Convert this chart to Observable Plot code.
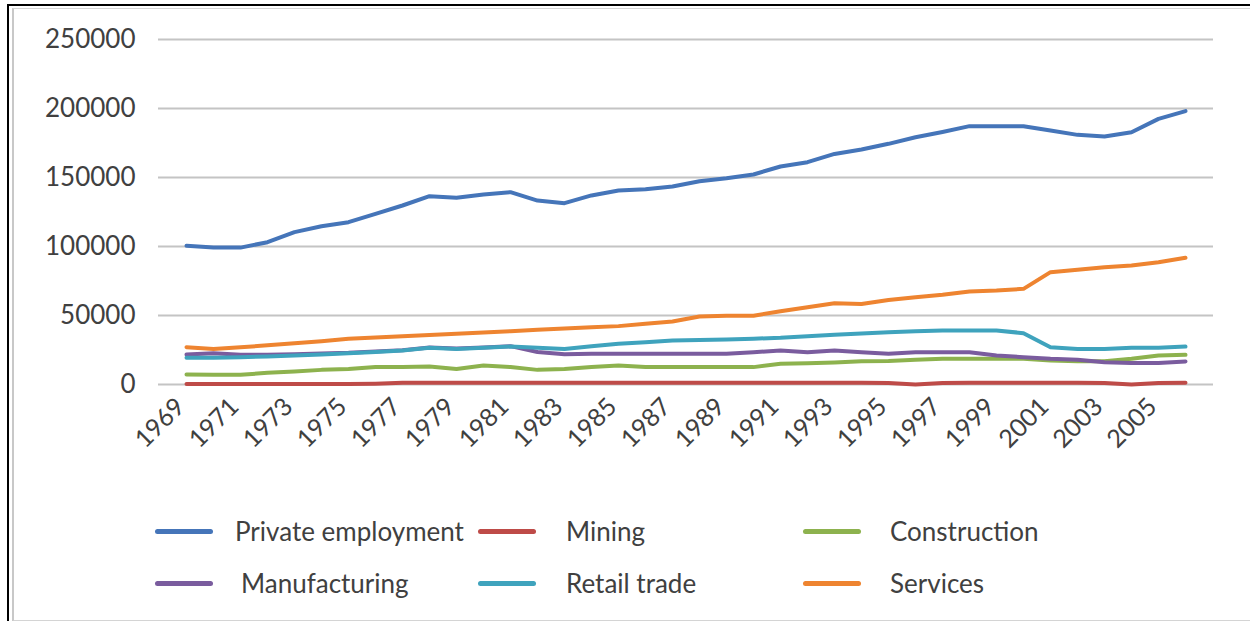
<!DOCTYPE html>
<html>
<head>
<meta charset="utf-8">
<script src="https://cdn.jsdelivr.net/npm/d3@7"></script>
<script src="https://cdn.jsdelivr.net/npm/@observablehq/plot@0.6"></script>
<style>
  html, body { margin: 0; padding: 0; background: #fff; }
  #wrap { position: relative; width: 1250px; height: 621px; overflow: hidden; background: #fff; font-family: Lato, "Open Sans", sans-serif; }
  #outer { position: absolute; left: 7px; top: 4px; right: -10px; bottom: -10px; border-top: 2.5px solid #000; border-left: 2.5px solid #000; }
  #inner { position: absolute; left: 12px; top: 8px; right: -10px; height: 611px; border-top: 1.5px solid #d4d4d4; border-left: 2.5px solid #c8c8c8; border-bottom: 2px solid #d4d4d4; }
  #chart { position: absolute; left: 0; top: 0; }
  .lg { position: absolute; display: flex; align-items: center; font-size: 26px; color: #404040; white-space: pre; }
  .sw { width: 58px; height: 5px; border-radius: 2.5px; }
</style>
</head>
<body>
<div id="wrap">
  <div id="outer"></div>
  <div id="inner"></div>
  <div id="chart"></div>
  <div id="legend"></div>
</div>
<script>
// ---- data ----
const years = [1969,1970,1971,1972,1973,1974,1975,1976,1977,1978,1979,1980,1981,1982,1983,1984,1985,1986,1987,1988,1989,1990,1991,1992,1993,1994,1995,1996,1997,1998,1999,2000,2001,2002,2003,2004,2005,2006];
const tickYears = [1969,1971,1973,1975,1977,1979,1981,1983,1985,1987,1989,1991,1993,1995,1997,1999,2001,2003,2005];
const yTicks = [0,50000,100000,150000,200000,250000];

const seriesNames = ["Private employment","Mining","Construction","Manufacturing","Retail trade","Services"];
const seriesColors = ["#4575B9","#BE4B48","#8DB24E","#7A5C9E","#3FA3BD","#EE8430"];

const privateEmployment = [100500,99300,99200,103100,110400,114700,117600,123700,129700,136500,135300,137700,139400,133300,131400,137000,140600,141500,143500,147300,149500,152200,158000,161100,167100,170300,174400,179200,183000,187200,187200,187200,184000,180900,179700,182800,192500,198100];
const mining = [300,300,300,300,300,300,300,600,1300,1300,1300,1300,1300,1300,1300,1300,1300,1300,1300,1300,1300,1300,1300,1300,1300,1300,1000,0,1000,1300,1300,1300,1300,1300,1000,0,1000,1300];
const construction = [7200,7000,7000,8500,9400,10600,11300,12600,12600,13000,11300,13800,12600,10600,11300,12600,13800,12600,12600,12600,12600,12600,15000,15400,16000,16900,17000,17900,18600,18600,18600,18600,17400,16900,16900,18600,21000,21500];
const manufacturing = [21700,22700,21500,21500,22000,22500,23000,24000,24800,26800,26000,26800,27800,23500,22000,22200,22200,22200,22200,22200,22200,23400,24600,23400,24600,23400,22200,23400,23400,23400,21000,19800,18600,17900,16200,15500,15500,16700];
const retailTrade = [19300,19300,19800,20300,21000,21800,22700,23500,24600,26600,25800,26600,27500,26600,25800,27800,29500,30700,31900,32300,32600,33200,33800,34900,36000,37000,37900,38500,39100,39100,39100,37200,27000,25800,25800,26600,26600,27500];
const services = [27000,25800,27000,28400,29900,31400,33100,34000,35000,35800,36700,37600,38600,39600,40600,41400,42300,44000,45700,49300,49800,49800,53100,56000,58900,58400,61300,63300,65000,67400,68100,69300,81400,83100,85000,86200,88600,91800];

const seriesValues = [privateEmployment, mining, construction, manufacturing, retailTrade, services];

// long table built from the arrays
const rows = [];
seriesNames.forEach((name, i) => {
  years.forEach((yr, j) => rows.push({series: name, year: yr, value: seriesValues[i][j]}));
});

const font = 'Lato, "Open Sans", sans-serif';

const chart = Plot.plot({
  width: 1250,
  height: 470,
  marginTop: 39,
  marginBottom: 86,
  marginLeft: 158,
  marginRight: 37,
  style: {fontFamily: font, fontSize: "25px", color: "#404040", background: "transparent", overflow: "visible"},
  x: {type: "point", domain: years, padding: 0.5, label: null},
  y: {domain: [0, 250000], label: null},
  color: {domain: seriesNames, range: seriesColors},
  marks: [
    Plot.ruleY(yTicks, {stroke: "#c4c4c4", strokeWidth: 1.8}),
    Plot.axisY({ticks: yTicks, tickSize: 0, tickPadding: 23, tickFormat: d => String(d), label: null, fontSize: 26}),
    Plot.axisX({ticks: tickYears, tickSize: 0, tickPadding: 18, tickRotate: -45, tickFormat: d => String(d), label: null, fontSize: 25, dx: -6}),
    Plot.line(rows, {x: "year", y: "value", z: "series", stroke: "series", strokeWidth: 4, strokeLinecap: "round", strokeLinejoin: "round", curve: "linear"})
  ]
});
document.getElementById("chart").appendChild(chart);

// legend (HTML, below the svg)
const legend = document.getElementById("legend");
const legendPos = [
  {sx: 155, tx: 235, y: 531, label: "Private employment"},
  {sx: 478, tx: 566, y: 531, label: "Mining"},
  {sx: 803, tx: 890, y: 531, label: "Construction"},
  {sx: 155, tx: 241, y: 583, label: "Manufacturing"},
  {sx: 478, tx: 566, y: 583, label: "Retail trade"},
  {sx: 803, tx: 890, y: 583, label: "Services"}
];
legendPos.forEach((p, i) => {
  const sw = document.createElement("div");
  sw.className = "sw";
  sw.style.position = "absolute";
  sw.style.left = p.sx + "px";
  sw.style.top = (p.y - 2.5) + "px";
  sw.style.background = seriesColors[i];
  legend.appendChild(sw);
  const t = document.createElement("div");
  t.className = "lg";
  t.style.left = p.tx + "px";
  t.style.top = (p.y - 16) + "px";
  t.style.height = "32px";
  t.textContent = p.label;
  legend.appendChild(t);
});
</script>
</body>
</html>
